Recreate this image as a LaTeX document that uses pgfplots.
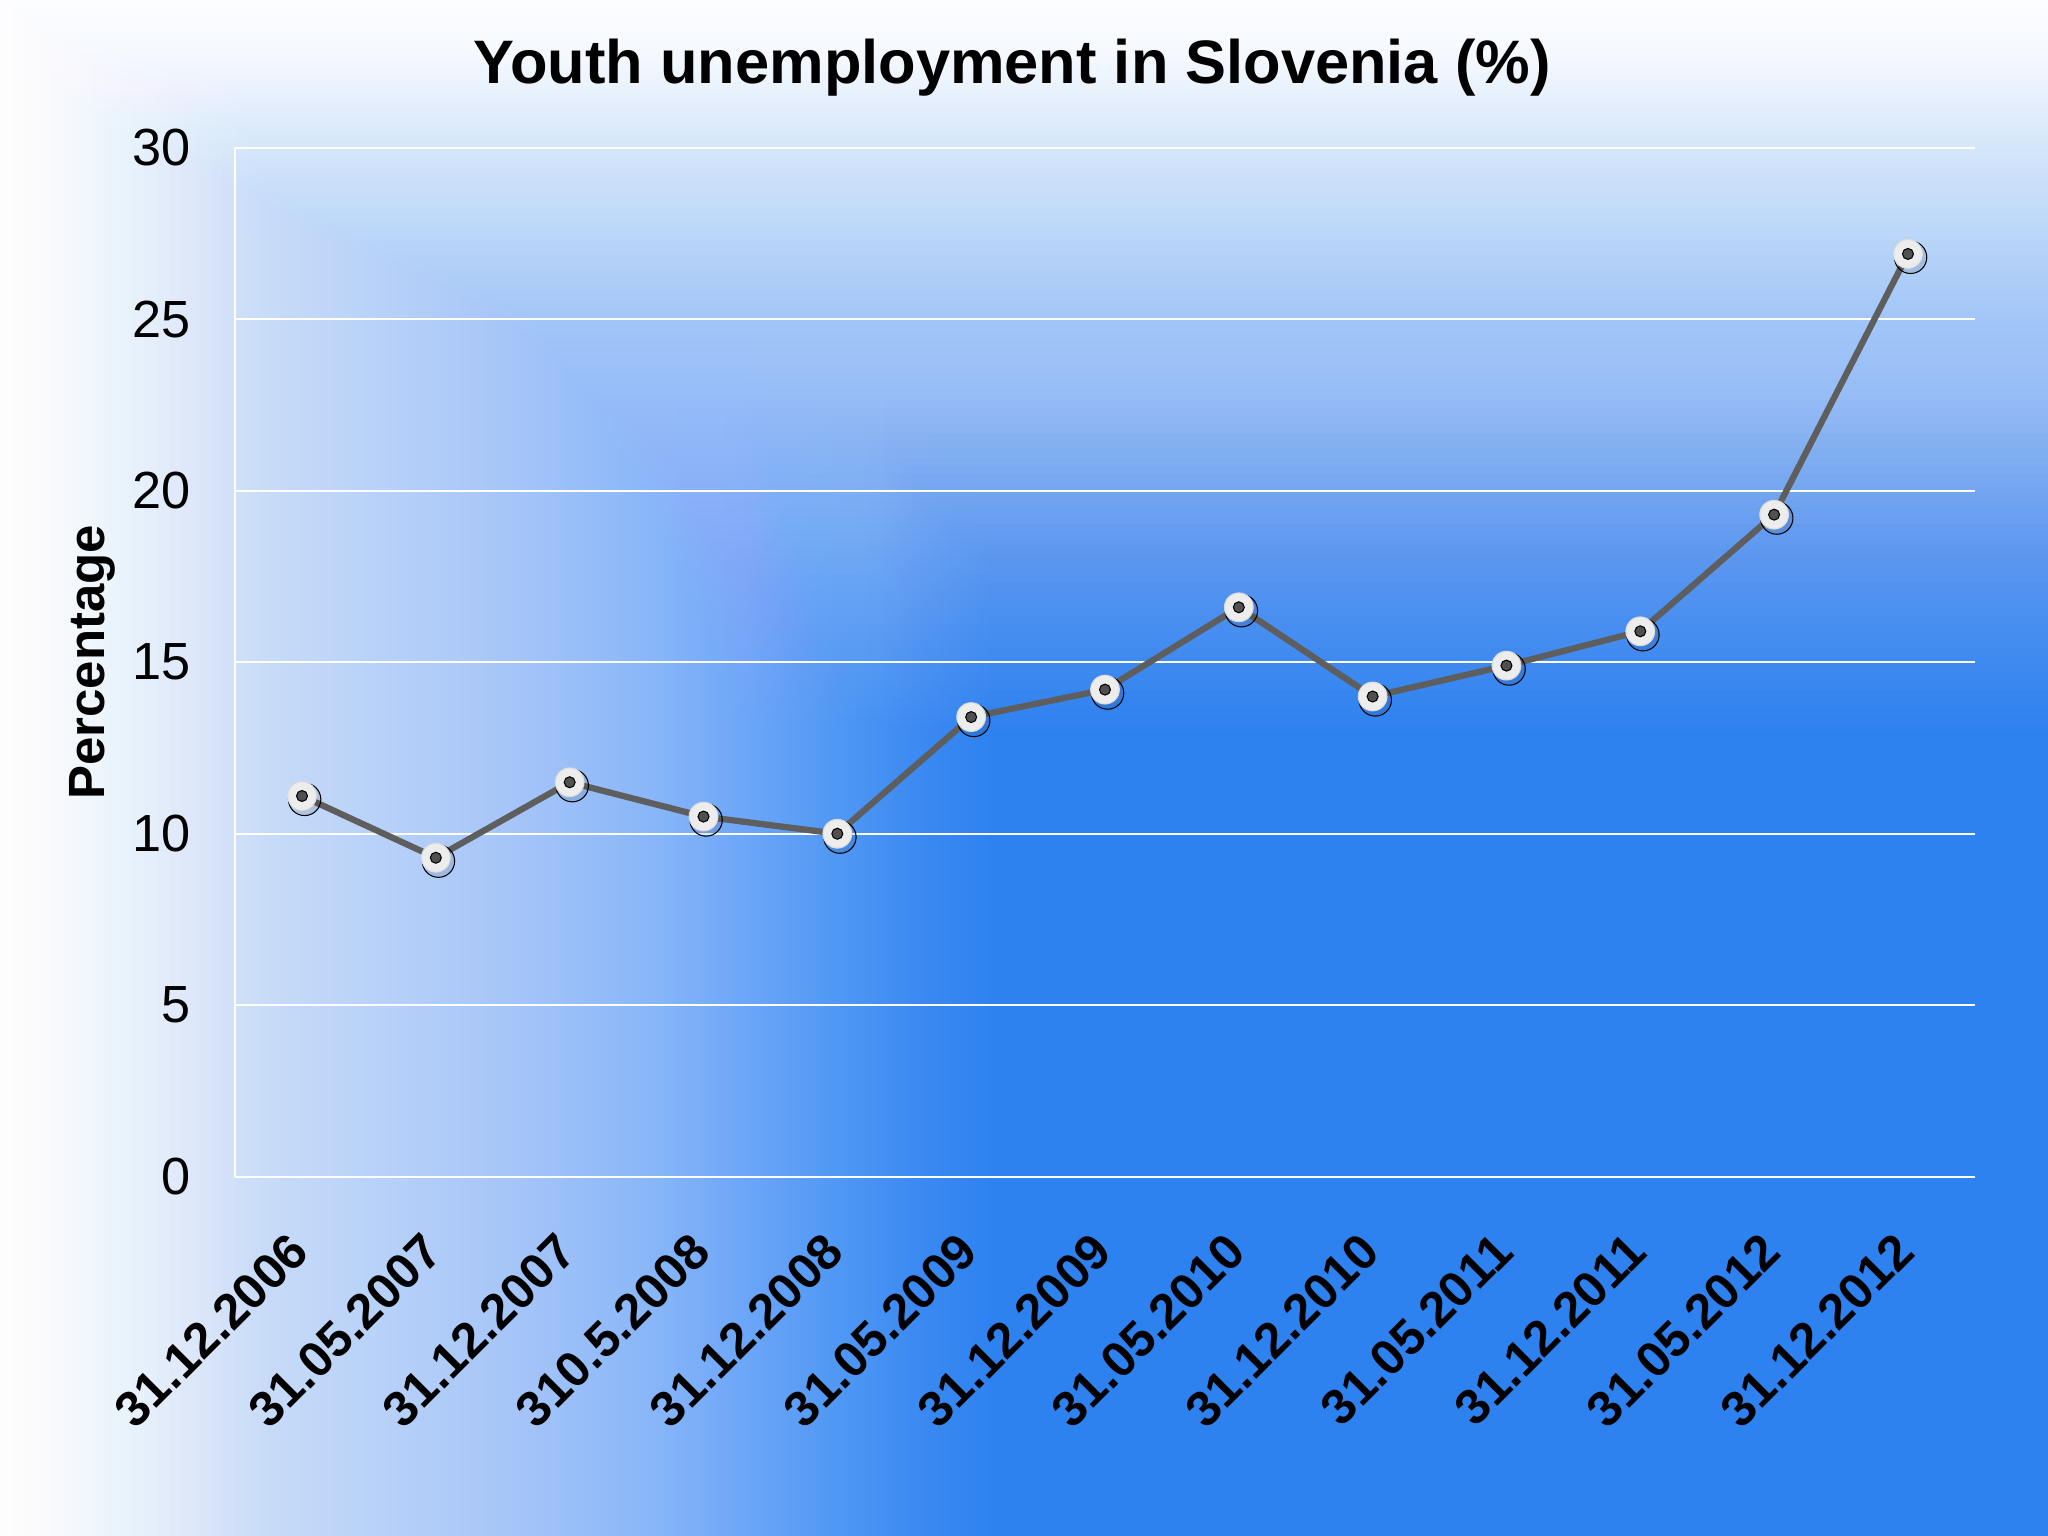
\documentclass[border=0pt]{standalone}
\usepackage{fontspec}
\setmainfont{Liberation Sans}
\usepackage{pgfplots}
\pgfplotsset{compat=1.18}
\usepackage{pgfplotstable}

% background colours, left to right
\definecolor{b0}{HTML}{F6F8FE}
\definecolor{b1}{HTML}{EEF3FD}
\definecolor{b2}{HTML}{DCE8FB}
\definecolor{b3}{HTML}{C8DCF8}
\definecolor{b4}{HTML}{B6D0F8}
\definecolor{b5}{HTML}{A4C4F8}
\definecolor{b6}{HTML}{88B6F8}
\definecolor{b7}{HTML}{70A8F8}
\definecolor{b8}{HTML}{5098F4}
\definecolor{b9}{HTML}{3C8AF2}
\definecolor{b10}{HTML}{2E82F0}
% top fade, bottom to top
\definecolor{t0}{HTML}{96BCF6}
\definecolor{t1}{HTML}{A2C6F8}
\definecolor{t2}{HTML}{B4D2F8}
\definecolor{t3}{HTML}{D4E6FA}
\definecolor{t4}{HTML}{F4F8FE}
\definecolor{t5}{HTML}{FCFDFF}
\definecolor{lineg}{HTML}{5E5E5E}
\definecolor{dotg}{HTML}{505050}

\pgfdeclarehorizontalshading{bgh}{588pt}{color(0pt)=(b0); color(10pt)=(b1); color(50pt)=(b2);
  color(100pt)=(b3); color(150pt)=(b4); color(200pt)=(b5); color(250pt)=(b6); color(280pt)=(b7);
  color(320pt)=(b8); color(350pt)=(b9); color(380pt)=(b10); color(784pt)=(b10)}
\pgfdeclareverticalshading{topv}{784pt}{color(0pt)=(t0); color(31pt)=(t1); color(55.5pt)=(t2);
  color(96.5pt)=(t3); color(130.5pt)=(t4); color(153pt)=(t5)}

\pgfplotstableread{
x y
0 11.1
1 9.3
2 11.5
3 10.5
4 10.0
5 13.4
6 14.2
7 16.6
8 14.0
9 14.9
10 15.9
11 19.3
12 26.9
}\unemp

\begin{document}
\begin{tikzpicture}
\useasboundingbox (0,0) rectangle (784pt,588pt);
% background
\node[inner sep=0pt, outer sep=0pt, anchor=south west] at (0,0) {\pgfuseshading{bgh}};
\begin{scope}[blend mode=lighten]
\node[inner sep=0pt, outer sep=0pt, anchor=south west] at (0,435pt) {\pgfuseshading{topv}};
\foreach \i in {1,...,40}{
  \pgfmathsetmacro\op{1-(1-(\i-0.5)/40)/min(1,1-(\i-1.5)/40)}
  \fill[t0, opacity=\op] (0,435pt) rectangle (784pt,{435pt-(41-\i)*3.175pt});
}
\end{scope}
\foreach \i in {1,...,20}{
  \pgfmathsetmacro\op{1-(1-0.95*(\i-0.5)/20)/min(1,1-0.95*(\i-1.5)/20)}
  \fill[white, opacity=\op] (0,0) rectangle ({(21-\i)*5pt},588pt);
}

\begin{axis}[
  at={(90pt,137.5pt)}, anchor=south west,
  scale only axis, width=666pt, height=394pt,
  xmin=-0.5, xmax=12.5, ymin=0, ymax=30,
  ytick={0,5,...,30},
  xtick={0,...,12},
  xticklabels={31.12.2006,31.05.2007,31.12.2007,310.5.2008,31.12.2008,31.05.2009,31.12.2009,
    31.05.2010,31.12.2010,31.05.2011,31.12.2011,31.05.2012,31.12.2012},
  axis x line*=bottom, axis y line*=left,
  axis line style={-, white, line width=0.8pt},
  ymajorgrids, grid style={white, line width=0.8pt},
  major tick length=0pt, tick style={draw=none},
  /pgf/number format/assume math mode=true,
  yticklabel style={font=\fontsize{20}{24}\selectfont, anchor=east, inner sep=0pt, xshift=-17pt},
  xticklabel style={font=\fontsize{19}{23}\selectfont\bfseries, inner sep=0pt,
    xshift=-1pt, yshift=-25pt, rotate=45, anchor=east},
  ylabel={Percentage},
  every axis y label/.style={at={(axis description cs:0,0.5)}, xshift=-54.5pt, rotate=90,
    anchor=center, font=\fontsize{19.5}{23}\selectfont\bfseries},
  clip=false,
]
% soft shadow of the markers
\addplot[only marks, mark=*, mark size=6.2pt,
  mark options={xshift=1pt, yshift=-1.3pt, draw=none, fill=black, fill opacity=0.09}]
  table[x=x, y=y] {\unemp};
% line
\addplot[line width=2.4pt, color=lineg, mark=none] table[x=x, y=y] {\unemp};
% markers
\addplot[only marks, mark=*, mark size=5.5pt,
  mark options={fill=white!93!black, draw=white!86!black, line width=0.4pt}]
  table[x=x, y=y] {\unemp};
\addplot[only marks, mark=*, mark size=2.1pt,
  mark options={fill=dotg, draw=none}]
  table[x=x, y=y] {\unemp};
\end{axis}

\node[font=\fontsize{23.5}{28}\selectfont\bfseries] at (387.5pt,562pt)
  {Youth unemployment in Slovenia (\%)};
\end{tikzpicture}
\end{document}
